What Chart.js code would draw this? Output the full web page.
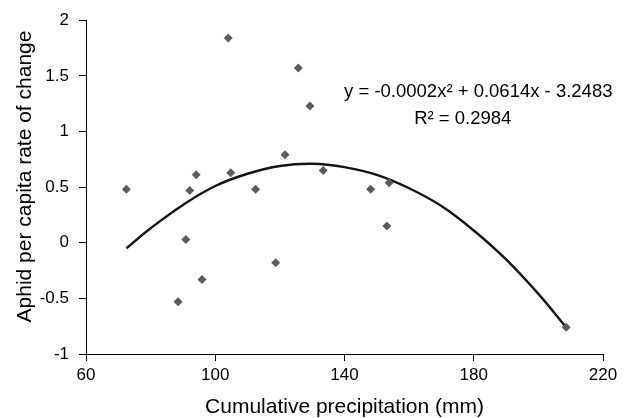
<!DOCTYPE html>
<html>
<head>
<meta charset="utf-8">
<script src="https://cdn.jsdelivr.net/npm/chart.js@4.4.1/dist/chart.umd.min.js"></script>
<style>
  html, body { margin: 0; padding: 0; background: #fff; }
  #wrap { width: 629px; height: 418px; }
</style>
</head>
<body>
<div id="wrap"><canvas id="scatterChart" width="629" height="418"></canvas></div>
<script>
// Cumulative precipitation (mm) for each observation
const precipitation = [72.5, 88.5, 90.9, 92.1, 94.1, 95.9, 104.0, 104.8, 112.5, 118.7,
                       121.6, 125.7, 129.3, 133.4, 148.1, 153.1, 153.8, 208.6];
// Aphid per capita rate of change for each observation
const rateOfChange = [0.48, -0.53, 0.03, 0.47, 0.61, -0.33, 1.84, 0.63, 0.48, -0.18,
                      0.79, 1.57, 1.23, 0.65, 0.48, 0.15, 0.54, -0.76];

// Polynomial trendline, sampled along the fitted curve
const trendX = [72.5, 80, 90, 100, 110, 120, 130, 140, 150, 160, 170, 180, 190, 200, 208.6];
const trendY = [-0.05, 0.13, 0.34, 0.51, 0.62, 0.69, 0.71, 0.68, 0.61, 0.49, 0.33, 0.11, -0.15, -0.46, -0.76];

const equationText = 'y = -0.0002x\u00B2 + 0.0614x - 3.2483';
const rSquaredText = 'R\u00B2 = 0.2984';
const xTitle = 'Cumulative precipitation (mm)';
const yTitle = 'Aphid per capita rate of change';

const xTicks = [60, 100, 140, 180, 220];
const yTicks = [-1, -0.5, 0, 0.5, 1, 1.5, 2];

const FONT = '"Liberation Sans", Arial, sans-serif';

const points = precipitation.map((x, i) => ({ x: x, y: rateOfChange[i] }));
const trend = trendX.map((x, i) => ({ x: x, y: trendY[i] }));

// Draws axis titles and the trendline equation
const annotations = {
    id: 'annotations',
    afterDraw(chart) {
        const ctx = chart.ctx;
        const xs = chart.scales.x;
        const ys = chart.scales.y;
        ctx.save();
        ctx.fillStyle = '#000';

        ctx.font = '18.5px ' + FONT;
        ctx.textAlign = 'center';
        ctx.textBaseline = 'middle';
        ctx.fillText(equationText, xs.getPixelForValue(181.4), ys.getPixelForValue(1.36));
        ctx.fillText(rSquaredText, xs.getPixelForValue(176.6), ys.getPixelForValue(1.11));

        ctx.font = '21px ' + FONT;
        ctx.textBaseline = 'alphabetic';
        ctx.fillText(xTitle, (chart.chartArea.left + chart.chartArea.right) / 2, 413);

        ctx.translate(31, 176.5);
        ctx.rotate(-Math.PI / 2);
        ctx.fillText(yTitle, 0, 0);
        ctx.restore();
    }
};

const ctx = document.getElementById('scatterChart').getContext('2d');
new Chart(ctx, {
    type: 'scatter',
    data: {
        datasets: [
            {
                label: 'Observed',
                data: points,
                pointStyle: 'rectRot',
                pointRadius: 4.5,
                backgroundColor: '#5c5c5c',
                borderWidth: 0
            },
            {
                type: 'line',
                label: 'Poly. trend',
                data: trend,
                showLine: true,
                pointRadius: 0,
                borderColor: '#141414',
                borderWidth: 2.4,
                tension: 0.4,
                fill: false
            }
        ]
    },
    options: {
        responsive: false,
        animation: false,
        layout: { padding: { left: 0, top: 18, right: 26, bottom: 0 } },
        plugins: {
            legend: { display: false },
            tooltip: { enabled: false }
        },
        scales: {
            x: {
                type: 'linear',
                min: 60,
                max: 220,
                afterBuildTicks: s => { s.ticks = xTicks.map(v => ({ value: v })); },
                afterFit: s => { s.height = 64; },
                border: { display: true, color: '#000', width: 1 },
                grid: { drawOnChartArea: false, drawTicks: true, tickLength: 7, tickColor: '#000' },
                ticks: { color: '#000', padding: 4, font: { family: FONT, size: 17 },
                         callback: v => String(v) }
            },
            y: {
                type: 'linear',
                min: -1,
                max: 2,
                afterBuildTicks: s => { s.ticks = yTicks.map(v => ({ value: v })); },
                afterFit: s => { s.width = 86; },
                border: { display: true, color: '#000', width: 1 },
                grid: { drawOnChartArea: false, drawTicks: true, tickLength: 7, tickColor: '#000' },
                ticks: { color: '#000', padding: 10, font: { family: FONT, size: 17 },
                         callback: v => String(v) }
            }
        }
    },
    plugins: [annotations]
});
</script>
</body>
</html>
